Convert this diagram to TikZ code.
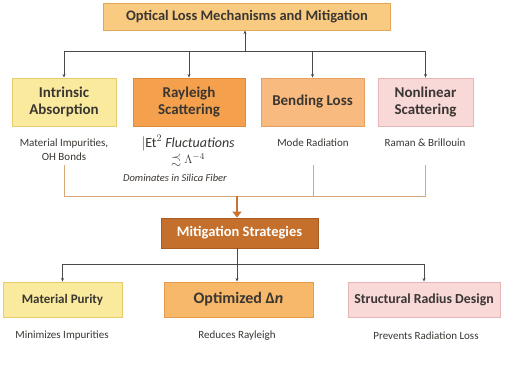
\documentclass[tikz,border=0pt]{standalone}
\usepackage{amssymb}
\usepackage{amsmath}
\usepackage{fontspec}
\setmainfont{Carlito}
\usepackage{tikz}
\usetikzlibrary{calc,arrows.meta}

\definecolor{txtgray}{HTML}{3A3632}
\definecolor{linegray}{HTML}{4A4A4A}
\definecolor{tanline}{HTML}{D9A878}
\definecolor{topfill}{HTML}{F9CB80}
\definecolor{topdraw}{HTML}{E3A75A}
\definecolor{yelfill}{HTML}{FAEA9E}
\definecolor{yeldraw}{HTML}{E6CC6C}
\definecolor{orafill}{HTML}{F4A04C}
\definecolor{oradraw}{HTML}{DE8A3A}
\definecolor{peachfill}{HTML}{F8BA7E}
\definecolor{peachdraw}{HTML}{E7A064}
\definecolor{pinkfill}{HTML}{F9D8D8}
\definecolor{pinkdraw}{HTML}{E6B6B6}
\definecolor{mitfill}{HTML}{C4702C}
\definecolor{mitdraw}{HTML}{A95C22}
\definecolor{brownarr}{HTML}{C8732E}
\definecolor{optfill}{HTML}{F7B86A}
\definecolor{optdraw}{HTML}{E49C4C}

\tikzset{
	box/.style={draw, line width=0.9pt, align=center, text=txtgray, font=\bfseries\fontsize{15}{16.5}\selectfont, inner sep=2pt},
	caption/.style={align=center, text=txtgray, font=\fontsize{11}{14}\selectfont, inner sep=1pt},
	conn/.style={draw=linegray, line width=0.9pt, -{Stealth[length=3.5pt,width=3pt]}},
	bracket/.style={draw=tanline, line width=0.9pt}
}

\begin{document}
\begin{tikzpicture}[x=1pt,y=-1pt]
	\useasboundingbox[fill=white] (0,0) rectangle (509,373);
	
	%top box
	\node[box, fill=topfill, draw=topdraw, minimum width=287pt, minimum height=27pt, font=\bfseries\fontsize{14.5}{16}\selectfont] (title) at (247,16.5) {Optical Loss Mechanisms and Mitigation};
	
	%mechanism boxes
	\node[box, fill=yelfill, draw=yeldraw, minimum width=104pt, minimum height=48pt] (intrinsic) at (64,102) {Intrinsic\\Absorption};
	\node[box, fill=orafill, draw=oradraw, minimum width=112pt, minimum height=48pt] (rayleigh) at (189,102) {Rayleigh\\Scattering};
	\node[box, fill=peachfill, draw=peachdraw, minimum width=103pt, minimum height=48pt] (bending) at (312.5,102) {Bending Loss};
	\node[box, fill=pinkfill, draw=pinkdraw, minimum width=95pt, minimum height=48pt] (nonlinear) at (425.5,102) {Nonlinear\\Scattering};
	
	%mechanism captions
	\node[caption, anchor=north] (capintr) at (64,137.5) {Material Impurities,\\OH Bonds};
	\node[caption, font=\fontsize{14}{16}\selectfont] (capray) at (188,143) {$|$Et$^2$ \textit{Fluctuations}};
	\node[caption, font=\fontsize{13}{15}\selectfont] (caprayb) at (188,160) {$\precsim \Lambda^{-4}$};
	\node[caption, font=\itshape\fontsize{10.5}{12}\selectfont] (dominates) at (175,178) {Dominates in Silica Fiber};
	\node[caption, anchor=north] (capbend) at (313,137.5) {Mode Radiation};
	\node[caption, anchor=north] (capnonl) at (425,137.5) {Raman \& Brillouin};
	
	%mitigation
	\node[box, fill=mitfill, draw=mitdraw, text=white, minimum width=157pt, minimum height=30pt, font=\bfseries\fontsize{14.5}{16}\selectfont] (mitig) at (239.5,233) {Mitigation Strategies};
	
	%strategy boxes
	\node[box, fill=yelfill, draw=yeldraw, minimum width=119pt, minimum height=35pt, font=\bfseries\fontsize{13}{15}\selectfont] (purity) at (62.5,299.5) {Material Purity};
	\node[box, fill=optfill, draw=optdraw, minimum width=149pt, minimum height=35pt, font=\bfseries\fontsize{16}{18}\selectfont] (optim) at (238.5,299.5) {Optimized Δ\textit{n}};
	\node[box, fill=pinkfill, draw=pinkdraw, minimum width=152pt, minimum height=35pt, font=\bfseries\fontsize{13.8}{15}\selectfont] (radius) at (424,299.5) {Structural Radius Design};
	
	%strategy captions
	\node[caption] (cappur) at (62,336) {Minimizes Impurities};
	\node[caption] (capopt) at (237,336) {Reduces Rayleigh};
	\node[caption] (caprad) at (426,336) {Prevents Radiation Loss};
	
	%upper tree
	\coordinate (topjoin) at (245,51);
	\draw[conn] (topjoin) -- (title.south -| topjoin);
	\draw[conn] (topjoin) -| (intrinsic.north);
	\draw[conn] (topjoin) -| (rayleigh.north);
	\draw[conn] (topjoin) -| (bending.north);
	\draw[conn] (topjoin) -| (nonlinear.north);
	
	%bracket
	\coordinate (brline) at (237,196);
	\draw[bracket] (capintr.south |- 0,165) -- (capintr.south |- brline) -- (capnonl.south |- brline) -- (capnonl.south |- 0,165);
	\draw[bracket] (capbend.south |- 0,165) -- (capbend.south |- brline);
	\draw[brownarr, line width=2.6pt, -{Triangle[length=6pt,width=9pt]}] (brline) -- (mitig.north -| brline);
	
	%lower tree
	\coordinate (botjoin) at (237,264);
	\draw[linegray, line width=0.9pt] (mitig.south -| botjoin) -- (botjoin);
	\draw[conn] (botjoin) -| (purity.north);
	\draw[conn] (botjoin) -- (optim.north -| botjoin);
	\draw[conn] (botjoin) -| (radius.north);
\end{tikzpicture}
\end{document}
